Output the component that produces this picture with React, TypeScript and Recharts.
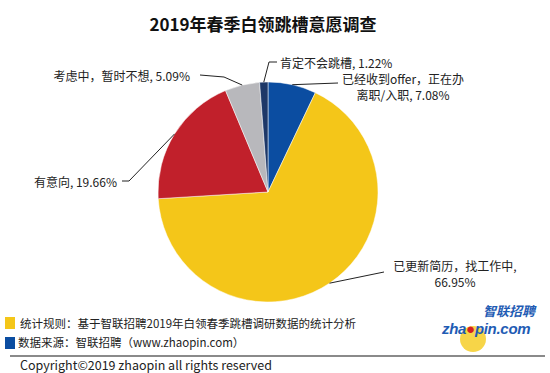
import { PieChart, Pie, Cell } from 'recharts'

const NAMES = ['已经收到offer，正在办离职/入职', '已更新简历，找工作中', '有意向', '考虑中，暂时不想', '肯定不会跳槽']
const VALUES = [7.08, 66.95, 19.66, 5.09, 1.22]
const LABEL_LINES = [
    ['已经收到offer，正在办', '离职/入职, 7.08%'],
    ['已更新简历，找工作中,', '66.95%'],
    ['有意向, 19.66%'],
    ['考虑中，暂时不想, 5.09%'],
    ['肯定不会跳槽, 1.22%'],
]
const COLORS = ['#0b4da1', '#f4c619', '#c1202b', '#b8b8bc', '#1d3868']

// leader line bend points and text placement, per slice
const LABEL_LAYOUT = [
    { pts: [[338, 83]], x: 403, y: 78, anchor: 'middle' },
    { pts: [[384, 272]], x: 455, y: 265, anchor: 'middle' },
    { pts: [[129, 181], [122, 181]], x: 117, y: 181, anchor: 'end' },
    { pts: [[224, 77], [200, 75]], x: 190, y: 75, anchor: 'end' },
    { pts: [[269, 62], [277, 62]], x: 280, y: 62, anchor: 'start' },
]

const FONT = '"Noto Sans CJK SC", "Noto Sans", sans-serif'
const RADIAN = Math.PI / 180

const data = NAMES.map((name, i) => ({ name, value: VALUES[i] }))

function renderLabel(props: any) {
    const { cx, cy, midAngle, outerRadius, index } = props
    const sx = cx + outerRadius * Math.cos(-midAngle * RADIAN)
    const sy = cy + outerRadius * Math.sin(-midAngle * RADIAN)
    const layout = LABEL_LAYOUT[index]
    const points = [[sx, sy], ...layout.pts].map((p) => p.join(',')).join(' ')
    const lines = LABEL_LINES[index]
    return (
        <g key={`label-${index}`}>
            <polyline points={points} fill="none" stroke="#222" strokeWidth={1} />
            {lines.map((t, j) => (
                <text
                    key={j}
                    x={layout.x}
                    y={layout.y + j * 16}
                    textAnchor={layout.anchor as any}
                    dominantBaseline="central"
                    fontSize={12}
                    fontFamily={FONT}
                    fill="#222"
                >
                    {t}
                </text>
            ))}
        </g>
    )
}

export default function App() {
    return (
        <div
            style={{
                position: 'absolute',
                left: 0,
                top: 0,
                width: 550,
                height: 373,
                background: '#fff',
                fontFamily: FONT,
                color: '#222',
            }}
        >
            <div
                style={{
                    position: 'absolute',
                    left: 0,
                    width: 526,
                    top: 12,
                    textAlign: 'center',
                    fontSize: 17,
                    fontWeight: 700,
                    lineHeight: '24px',
                    color: '#111',
                }}
            >
                2019年春季白领跳槽意愿调查
            </div>

            <div style={{ position: 'absolute', left: 0, top: 0 }}>
                <PieChart width={550} height={373}>
                    <Pie
                        data={data}
                        dataKey="value"
                        cx={263}
                        cy={187}
                        outerRadius={110}
                        startAngle={90}
                        endAngle={-270}
                        stroke="#fff"
                        strokeWidth={0.5}
                        label={renderLabel}
                        labelLine={false}
                        isAnimationActive={false}
                    >
                        {data.map((_, index) => (
                            <Cell key={`cell-${index}`} fill={COLORS[index]} />
                        ))}
                    </Pie>
                </PieChart>
            </div>

            {/* Footer */}
            <div style={{ position: 'absolute', left: 5, top: 317, width: 10, height: 12, background: '#f4c619' }} />
            <div style={{ position: 'absolute', left: 20, top: 315, fontSize: 11.5, lineHeight: '16px' }}>
                统计规则：基于智联招聘2019年白领春季跳槽调研数据的统计分析
            </div>
            <div style={{ position: 'absolute', left: 5, top: 337, width: 10, height: 12, background: '#0b4da1' }} />
            <div style={{ position: 'absolute', left: 18, top: 334, fontSize: 11.5, lineHeight: '16px' }}>
                数据来源：智联招聘（www.zhaopin.com）
            </div>
            <div style={{ position: 'absolute', left: 10, top: 355, width: 535, height: 2, background: '#8a8a8a' }} />
            <div style={{ position: 'absolute', left: 20, top: 357, fontSize: 12.5, lineHeight: '16px' }}>
                Copyright©2019 zhaopin all rights reserved
            </div>

            {/* Logo */}
            <div
                style={{
                    position: 'absolute',
                    left: 460,
                    top: 326,
                    width: 26,
                    height: 26,
                    borderRadius: '50%',
                    background: '#f7d548',
                }}
            />
            <div
                style={{
                    position: 'absolute',
                    left: 483,
                    top: 303,
                    fontSize: 13,
                    fontWeight: 700,
                    fontStyle: 'italic',
                    color: '#1f5cb4',
                    lineHeight: '16px',
                }}
            >
                智联招聘
            </div>
            <div
                style={{
                    position: 'absolute',
                    left: 442,
                    top: 320,
                    fontSize: 15,
                    fontWeight: 700,
                    fontStyle: 'italic',
                    color: '#1f5cb4',
                    lineHeight: '17px',
                    fontFamily: 'Arial, "Liberation Sans", sans-serif',
                    letterSpacing: -0.3,
                }}
            >
                zha<span style={{ color: '#d62020' }}>●</span>pin.com
            </div>
        </div>
    )
}
